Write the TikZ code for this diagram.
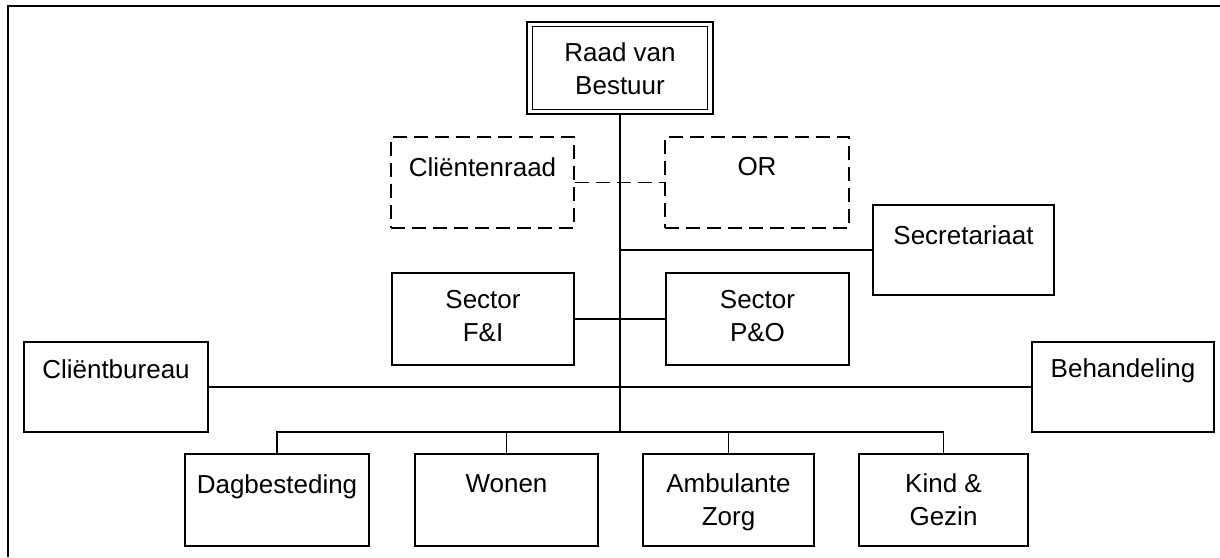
\documentclass[tikz,border=0pt]{standalone}
\usepackage{fontspec}
\setmainfont{Liberation Sans}
\begin{document}
\begin{tikzpicture}[x=1pt,y=-1pt,
  box/.style={draw, line width=1.1pt, inner sep=0pt},
  dbox/.style={box, dash pattern=on 14pt off 7pt},
  lbl/.style={anchor=north, inner sep=0pt, align=center, font=\fontsize{26}{33}\selectfont},
  link/.style={line width=1.1pt},
  dlink/.style={link, dash pattern=on 14pt off 7pt}]
\useasboundingbox (0,0) rectangle (1220,557);

% page frame (top and left edges only)
\draw[line width=2pt] (1220,6) -- (8,6) -- (8,557);

% board of directors, double outline
\node[box, minimum width=186pt, minimum height=92pt] (raad) at (620,68) {};
\draw[line width=1.1pt] ([shift={(6,5)}]raad.north west) rectangle ([shift={(-6,-5)}]raad.south east);
\node[lbl] (raadtxt) at (620,42) {Raad van\\Bestuur};

% advisory bodies (dashed)
\node[dbox, minimum width=183pt, minimum height=91pt] (clientenraad) at (482.5,182.5) {};
\node[lbl] (clientenraadtxt) at (482.5,157) {Cliëntenraad};
\node[dbox, minimum width=184pt, minimum height=91pt] (or) at (757,182.5) {};
\node[lbl] (ortxt) at (757,157) {OR};

% staff units
\node[box, minimum width=181pt, minimum height=90pt] (secr) at (963.5,250) {};
\node[lbl] (secrtxt) at (963.5,225) {Secretariaat};
\node[box, minimum width=182pt, minimum height=92pt] (fi) at (483,319) {};
\node[lbl] (fitxt) at (483,290) {Sector\\F\&I};
\node[box, minimum width=183pt, minimum height=92pt] (po) at (757.5,319) {};
\node[lbl] (potxt) at (757.5,290) {Sector\\P\&O};
\node[box, minimum width=184pt, minimum height=90pt] (cbureau) at (116,387) {};
\node[lbl] (cbureautxt) at (116,359) {Cliëntbureau};
\node[box, minimum width=182pt, minimum height=90pt] (behand) at (1123,387) {};
\node[lbl] (behandtxt) at (1123,358) {Behandeling};

% operating divisions
\node[box, minimum width=184pt, minimum height=92pt] (dag) at (277,500) {};
\node[lbl] (dagtxt) at (277,474) {Dagbesteding};
\node[box, minimum width=183pt, minimum height=92pt] (wonen) at (506.5,500) {};
\node[lbl] (wonentxt) at (506.5,474) {Wonen};
\node[box, minimum width=171pt, minimum height=92pt] (amb) at (728.5,500) {};
\node[lbl] (ambtxt) at (728.5,473) {Ambulante\\Zorg};
\node[box, minimum width=169pt, minimum height=92pt] (kind) at (943.5,500) {};
\node[lbl] (kindtxt) at (943.5,473) {Kind \&\\Gezin};

% connectors
\coordinate (bus) at (620,432);
\draw[link] (raad.south) -- (bus);
\draw[dlink] (clientenraad.east) -- (or.west);
\draw[link] (secr.west) -- (secr.west -| bus);
\draw[link] (fi.east) -- (po.west);
\draw[link] (cbureau.east) -- (behand.west);
\draw[link] (dag.north) |- (bus) -| (kind.north);
\draw[link] (wonen.north) -- (wonen.north |- bus);
\draw[link] (amb.north) -- (amb.north |- bus);
\end{tikzpicture}
\end{document}
